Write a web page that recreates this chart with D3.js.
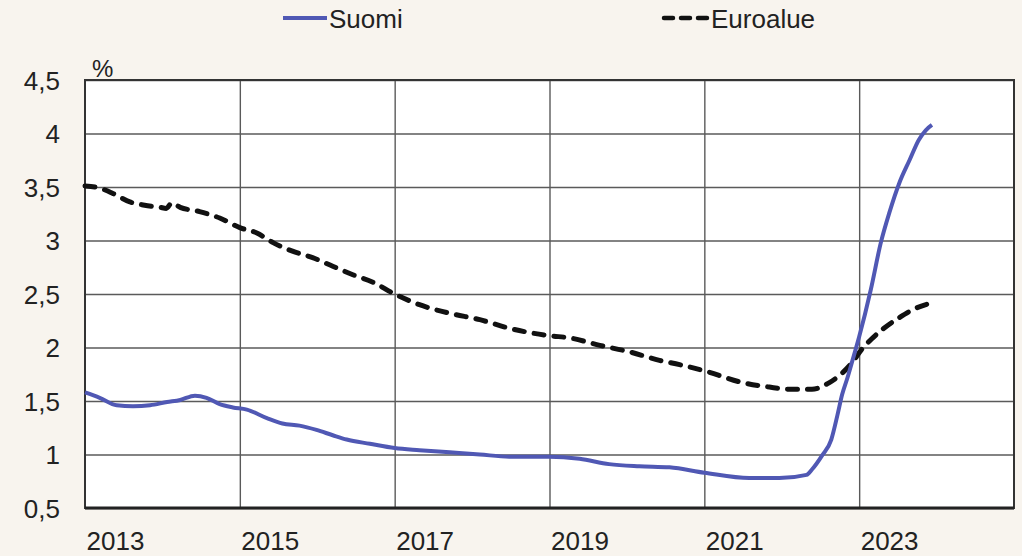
<!DOCTYPE html>
<html lang="fi">
<head>
<meta charset="UTF-8">
<title>Suomi vs Euroalue</title>
<script src="https://d3js.org/d3.v7.min.js"></script>
<style>
    body { margin: 0; background: #f8f4ee; }
    svg { display: block; font-family: "Liberation Sans", Arial, sans-serif; }
    .grid line { stroke: #5a5a5a; stroke-width: 1.4; }
    .grid path { display: none; }
    .axis text { fill: #222; font-size: 26px; }
    .axis path, .axis line { display: none; }
</style>
</head>
<body>
<svg id="chart" width="1022" height="556"></svg>
<script>
    // Time points in decimal years
    const suomiT = [2013.00, 2013.19, 2013.41, 2013.62, 2013.84, 2014.06, 2014.23, 2014.42, 2014.57, 2014.74,
        2014.91, 2015.09, 2015.35, 2015.55, 2015.77, 2015.99, 2016.20, 2016.38, 2016.68, 2017.00,
        2017.32, 2017.71, 2018.10, 2018.48, 2019.00, 2019.39, 2019.77, 2020.16, 2020.55, 2021.00,
        2021.58, 2021.97, 2022.32, 2022.39, 2022.52, 2022.64, 2022.72, 2022.78, 2022.85, 2022.91,
        2023.00, 2023.15, 2023.28, 2023.39, 2023.52, 2023.65, 2023.77, 2023.86, 2023.94];
    const suomiV = [1.58, 1.53, 1.46, 1.45, 1.46, 1.49, 1.51, 1.55, 1.53, 1.47,
        1.44, 1.42, 1.34, 1.29, 1.27, 1.23, 1.18, 1.14, 1.10, 1.06,
        1.04, 1.02, 1.00, 0.98, 0.98, 0.96, 0.91, 0.89, 0.88, 0.83,
        0.78, 0.78, 0.81, 0.86, 0.99, 1.14, 1.37, 1.56, 1.72, 1.87,
        2.10, 2.54, 2.98, 3.26, 3.54, 3.75, 3.94, 4.03, 4.08];

    const euroT = [2013.00, 2013.19, 2013.36, 2013.58, 2013.77, 2013.97, 2014.05, 2014.12, 2014.23, 2014.48,
        2014.74, 2015.00, 2015.22, 2015.43, 2015.68, 2015.94, 2016.20, 2016.46, 2016.72, 2017.00,
        2017.32, 2017.71, 2018.10, 2018.48, 2019.00, 2019.26, 2019.65, 2020.03, 2020.42, 2020.68,
        2021.06, 2021.45, 2021.84, 2022.10, 2022.39, 2022.61, 2022.78, 2022.91, 2023.03, 2023.16,
        2023.32, 2023.52, 2023.71, 2023.90];
    const euroV = [3.51, 3.49, 3.44, 3.36, 3.33, 3.31, 3.30, 3.35, 3.31, 3.27,
        3.21, 3.12, 3.07, 2.98, 2.90, 2.84, 2.76, 2.68, 2.61, 2.50,
        2.40, 2.32, 2.26, 2.18, 2.11, 2.09, 2.02, 1.96, 1.88, 1.84,
        1.77, 1.68, 1.63, 1.61, 1.61, 1.67, 1.76, 1.86, 1.98, 2.08,
        2.18, 2.28, 2.36, 2.41];

    const yTicks = [0.5, 1, 1.5, 2, 2.5, 3, 3.5, 4, 4.5];
    const xTicks = [2013, 2015, 2017, 2019, 2021, 2023];
    const seriesNames = ["Suomi", "Euroalue"];

    const svg = d3.select("#chart");
    const plotLeft = 85, plotRight = 1014, plotTop = 80, plotBottom = 508;

    const x = d3.scaleLinear().domain([2013, 2025]).range([plotLeft, plotRight]);
    const y = d3.scaleLinear().domain([0.5, 4.5]).range([plotBottom, plotTop]);

    // plot background
    svg.append("rect")
        .attr("x", plotLeft).attr("y", plotTop)
        .attr("width", plotRight - plotLeft).attr("height", plotBottom - plotTop)
        .attr("fill", "#ffffff");

    // horizontal grid
    svg.append("g")
        .attr("class", "grid")
        .attr("transform", `translate(${plotLeft},0)`)
        .call(d3.axisLeft(y).tickValues(yTicks).tickSize(-(plotRight - plotLeft)).tickFormat(""));

    // vertical grid
    svg.append("g")
        .attr("class", "grid")
        .attr("transform", `translate(0,${plotBottom})`)
        .call(d3.axisBottom(x).tickValues(d3.range(2015, 2025, 2)).tickSize(-(plotBottom - plotTop)).tickFormat(""));

    // y labels
    const yAxis = svg.append("g")
        .attr("class", "axis")
        .attr("transform", `translate(${plotLeft},0)`)
        .call(d3.axisLeft(y).tickValues(yTicks).tickSize(0).tickPadding(25)
            .tickFormat(d => String(d).replace(".", ",")));
    yAxis.selectAll("text").attr("dy", "0.36em");

    // x labels
    const xAxis = svg.append("g")
        .attr("class", "axis")
        .attr("transform", `translate(0,${plotBottom})`)
        .call(d3.axisBottom(x).tickValues(xTicks).tickSize(0).tickFormat(d3.format("d")));
    xAxis.selectAll("text")
        .attr("text-anchor", "start")
        .attr("x", 1)
        .attr("y", 42)
        .attr("dy", 0);

    // frame
    svg.append("rect")
        .attr("x", plotLeft).attr("y", plotTop)
        .attr("width", plotRight - plotLeft).attr("height", plotBottom - plotTop)
        .attr("fill", "none")
        .attr("stroke", "#333")
        .attr("stroke-width", 2);
    svg.append("line")
        .attr("x1", plotLeft).attr("x2", plotRight)
        .attr("y1", plotBottom).attr("y2", plotBottom)
        .attr("stroke", "#222")
        .attr("stroke-width", 3);

    svg.append("text")
        .attr("x", 92).attr("y", 77)
        .attr("font-size", 24)
        .attr("fill", "#222")
        .text("%");

    const line = d3.line()
        .x(d => x(d[0]))
        .y(d => y(d[1]))
        .curve(d3.curveMonotoneX);

    const suomi = suomiT.map((t, i) => [t, suomiV[i]]);
    const euro = euroT.map((t, i) => [t, euroV[i]]);

    svg.append("path")
        .datum(euro)
        .attr("d", line)
        .attr("fill", "none")
        .attr("stroke", "#111")
        .attr("stroke-width", 5)
        .attr("stroke-linecap", "round")
        .attr("stroke-dasharray", "10,10");

    svg.append("path")
        .datum(suomi)
        .attr("d", line)
        .attr("fill", "none")
        .attr("stroke", "#5058b4")
        .attr("stroke-width", 4)
        .attr("stroke-linejoin", "round");

    // legend
    const legend = svg.append("g");
    legend.append("line")
        .attr("x1", 283).attr("x2", 327).attr("y1", 18).attr("y2", 18)
        .attr("stroke", "#5058b4").attr("stroke-width", 4);
    legend.append("text")
        .attr("x", 329).attr("y", 28)
        .attr("font-size", 26).attr("fill", "#222")
        .text(seriesNames[0]);
    legend.append("line")
        .attr("x1", 664).attr("x2", 708).attr("y1", 18).attr("y2", 18)
        .attr("stroke", "#111").attr("stroke-width", 4.5)
        .attr("stroke-linecap", "round")
        .attr("stroke-dasharray", "9,8");
    legend.append("text")
        .attr("x", 711).attr("y", 28)
        .attr("font-size", 26).attr("fill", "#222")
        .text(seriesNames[1]);
</script>
</body>
</html>
